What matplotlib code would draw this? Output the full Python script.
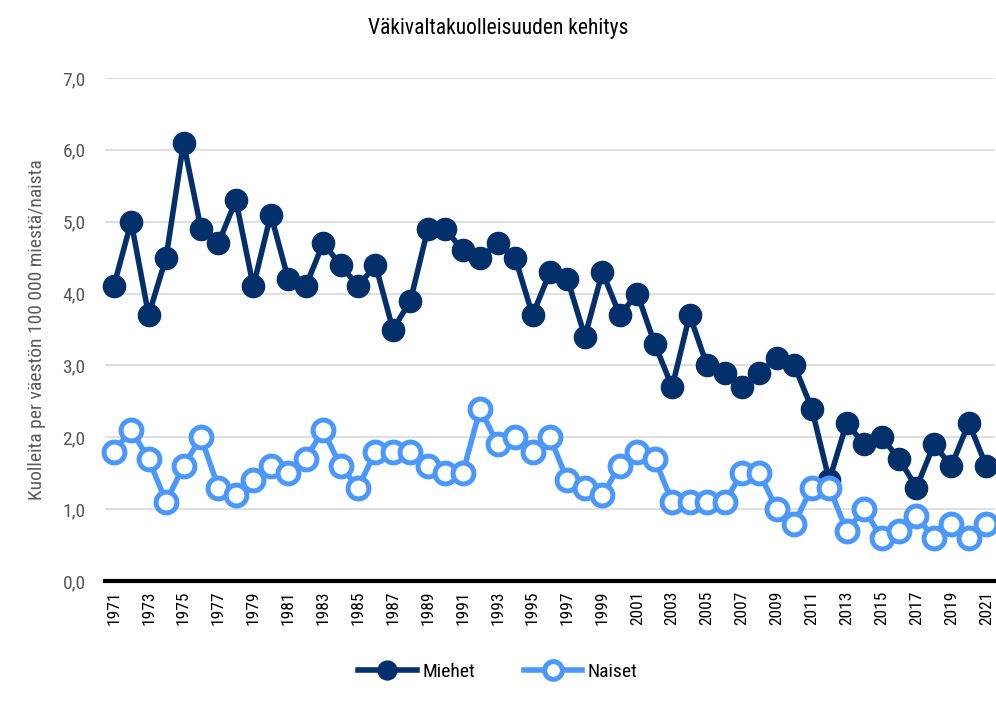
import matplotlib.pyplot as plt
from matplotlib import font_manager

years = list(range(1971, 2022))
miehet = [4.1, 5.0, 3.7, 4.5, 6.1, 4.9, 4.7, 5.3, 4.1, 5.1,
          4.2, 4.1, 4.7, 4.4, 4.1, 4.4, 3.5, 3.9, 4.9, 4.9,
          4.6, 4.5, 4.7, 4.5, 3.7, 4.3, 4.2, 3.4, 4.3, 3.7,
          4.0, 3.3, 2.7, 3.7, 3.0, 2.9, 2.7, 2.9, 3.1, 3.0,
          2.4, 1.4, 2.2, 1.9, 2.0, 1.7, 1.3, 1.9, 1.6, 2.2, 1.6]
naiset = [1.8, 2.1, 1.7, 1.1, 1.6, 2.0, 1.3, 1.2, 1.4, 1.6,
          1.5, 1.7, 2.1, 1.6, 1.3, 1.8, 1.8, 1.8, 1.6, 1.5,
          1.5, 2.4, 1.9, 2.0, 1.8, 2.0, 1.4, 1.3, 1.2, 1.6,
          1.8, 1.7, 1.1, 1.1, 1.1, 1.1, 1.5, 1.5, 1.0, 0.8,
          1.3, 1.3, 0.7, 1.0, 0.6, 0.7, 0.9, 0.6, 0.8, 0.6, 0.8]
yticks = [0, 1, 2, 3, 4, 5, 6, 7]

# kapea fontti jos loytyy
names = {f.name for f in font_manager.fontManager.ttflist}
fam = 'DejaVu Sans'
for cand in ['Roboto Condensed', 'Open Sans Condensed', 'Liberation Sans Narrow',
             'DejaVu Sans Condensed', 'Roboto']:
    if cand in names:
        fam = cand
        break
plt.rcParams['font.family'] = [fam, 'DejaVu Sans']

dark = '#03306b'
light = '#4a98fb'
gray = '#595959'

fig = plt.figure(figsize=(9.96, 7.11), dpi=100)
ax = fig.add_axes([105 / 996, 130 / 711, 890 / 996, 503 / 711])

ax.plot(years, miehet, color=dark, lw=4, marker='o', ms=16,
        markerfacecolor=dark, markeredgecolor=dark, label='Miehet',
        zorder=3, clip_on=False)
ax.plot(years, naiset, color=light, lw=4, marker='o', ms=15,
        markerfacecolor='white', markeredgecolor=light, markeredgewidth=3.6,
        label='Naiset', zorder=3, clip_on=False)

ax.set_xlim(1970.5, 2021.5)
ax.set_ylim(0, 7)
ax.set_yticks(yticks)
ax.set_yticklabels([f'{v:.1f}'.replace('.', ',') for v in yticks],
                   color=gray, fontsize=14)
ax.set_xticks(years[::2])
ax.set_xticklabels([str(y) for y in years[::2]], rotation=90, fontsize=12.5,
                   color='black')
ax.tick_params(axis='y', length=0, pad=14)
ax.tick_params(axis='x', length=0, pad=7)
ax.grid(axis='y', color='#d9d9d9', lw=1.2)
ax.set_axisbelow(True)
for s in ['top', 'right', 'left']:
    ax.spines[s].set_visible(False)
ax.spines['bottom'].set_linewidth(3)
ax.spines['bottom'].set_color('black')
ax.spines['bottom'].set_zorder(4)

ax.set_ylabel('Kuolleita per väestön 100 000 miestä/naista',
              color=gray, fontsize=14, labelpad=12)
fig.suptitle('Väkivaltakuolleisuuden kehitys', y=0.975, fontsize=15.5)

fig.legend(loc='center', bbox_to_anchor=(0.5, 0.055), ncol=2, frameon=False,
           fontsize=14, handlelength=3, columnspacing=2.5, handletextpad=0.3,
           markerscale=0.85)

fig.savefig('out.png', dpi=100)
